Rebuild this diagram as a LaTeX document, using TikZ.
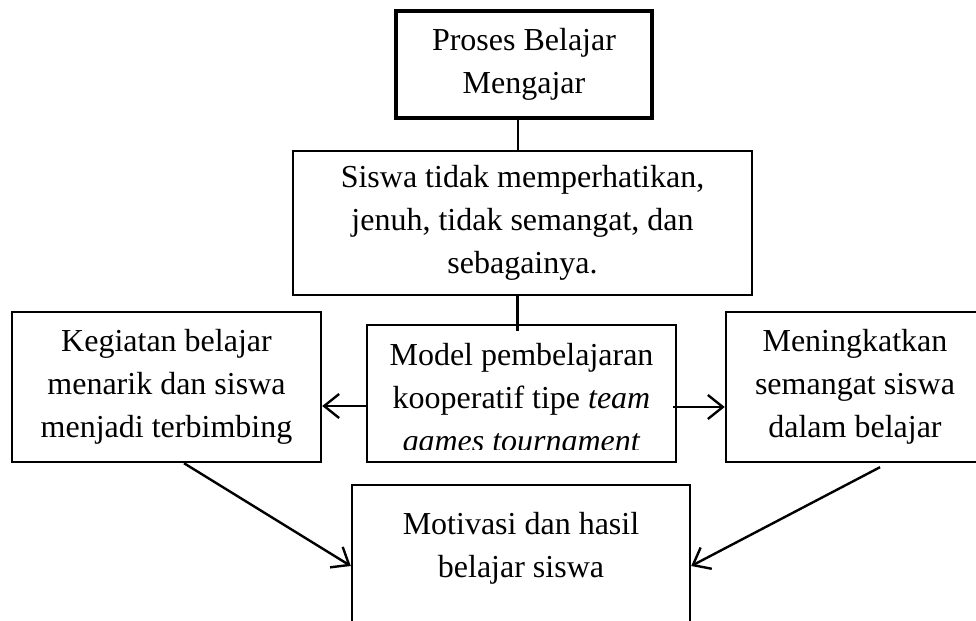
\documentclass[tikz,border=0pt]{standalone}
\usepackage{fontspec}
\setmainfont{Liberation Serif}
\usetikzlibrary{arrows.meta}

\begin{document}
\begin{tikzpicture}[x=0.5pt,y=-0.5pt,
    box/.style={draw,line width=1.2pt,align=center,inner sep=0pt,
      font=\fontsize{16}{21.5}\selectfont},
    txt/.style={align=center,inner sep=0pt,font=\fontsize{16}{21.5}\selectfont},
    arr/.style={line width=1.2pt,-{Straight Barb[length=7.5pt,width=12pt,line width=1.2pt]}}]
        % Canvas
        \useasboundingbox (0,0) rectangle (976,621);
        \clip (0,0) rectangle (976,621);
        % Boxes
        \node[box,line width=2pt,minimum width=128pt,minimum height=53.5pt] (proses) at (524,64.5) {Proses Belajar\\Mengajar};
        \node[box,minimum width=229.5pt,minimum height=72pt] (situasi) at (522.5,223) {Siswa tidak memperhatikan,\\jenuh, tidak semangat, dan\\sebagainya.};
        \node[box,minimum width=154.5pt,minimum height=75pt] (kegiatan) at (166.5,387) {Kegiatan belajar\\menarik dan siswa\\menjadi terbimbing};
        \node[box,minimum width=154.5pt,minimum height=68.5pt] (model) at (521.5,393.5) {};
        \node[box,minimum width=129pt,minimum height=75pt] (semangat) at (855,387) {Meningkatkan\\semangat siswa\\dalam belajar};
        \node[box,minimum width=169pt,minimum height=81pt] (motivasi) at (521,566) {Motivasi dan hasil\\belajar siswa\\\mbox{}};
        % Clipped text of the middle box
        \begin{scope}
          \clip (367,325) rectangle (676,449);
          \node[txt] (modeltext) at (521.5,401) {Model pembelajaran\\kooperatif tipe \textit{team}\\\textit{games tournament}};
        \end{scope}
        % Lines
        \draw[line width=1.2pt] ([xshift=-3pt]proses.south) -- ([xshift=-3pt]proses.south |- situasi.north);
        \draw[line width=1.2pt] ([xshift=-2.5pt]situasi.south) -- ([xshift=-2.5pt,yshift=-3.5pt]situasi.south |- model.north);
        % Arrows
        \draw[arr] ([yshift=-6.25pt]model.west) -- ([yshift=-6.25pt]model.west -| kegiatan.east);
        \draw[arr] ([xshift=-2pt,yshift=-6.75pt]model.east) -- ([yshift=-6.75pt]model.east -| semangat.west);
        \draw[arr] ([xshift=8.75pt]kegiatan.south) -- (motivasi.west);
        \draw[arr] ([xshift=12.5pt,yshift=-2pt]semangat.south) -- (motivasi.east);
    \end{tikzpicture}
\end{document}
